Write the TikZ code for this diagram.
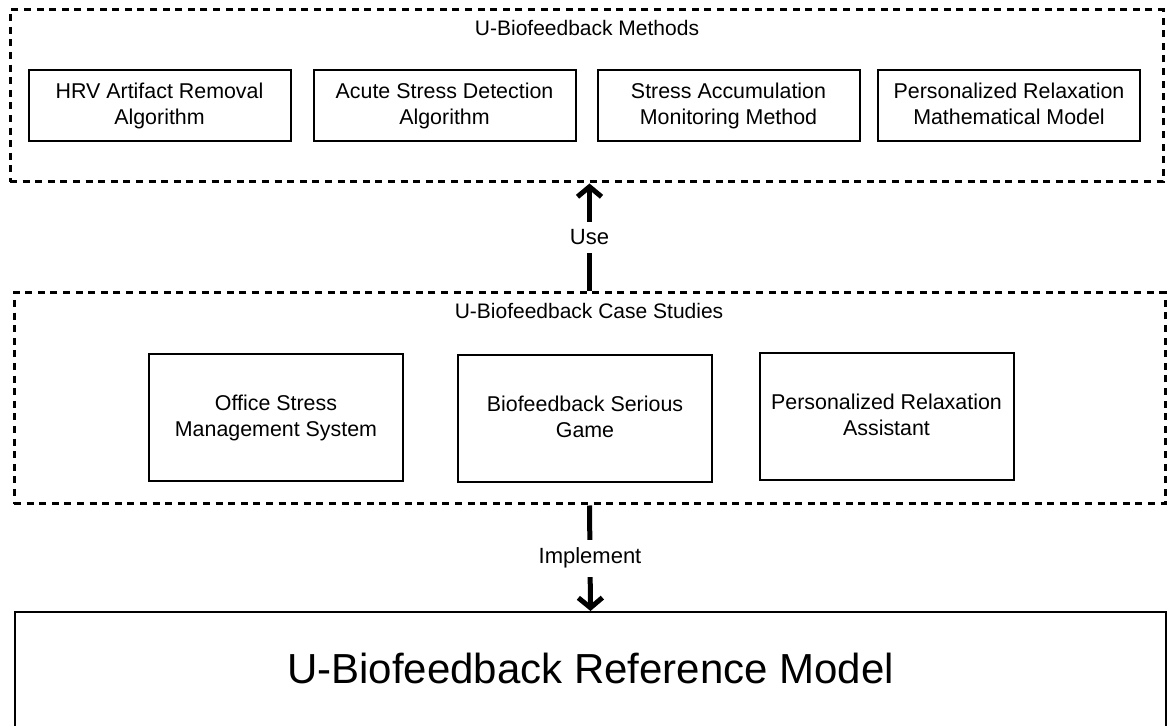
\documentclass[tikz,border=0pt]{standalone}
\usepackage{fontspec}
\setmainfont{Liberation Sans}
\usetikzlibrary{arrows.meta, positioning}

\begin{document}
\begin{tikzpicture}[
    x=0.5pt, y=-0.5pt,
    groupbox/.style={draw, line width=1.5pt, dash pattern=on 3.5pt off 2.8pt, inner sep=0pt},
    titletext/.style={font=\fontsize{10.5}{12.5}\selectfont},
    methodbox/.style={draw, line width=1pt, minimum width=131pt, minimum height=35.5pt,
                      align=center, font=\fontsize{10.7}{13}\selectfont,
                      execute at end node=\vphantom{g}},
    casebox/.style={draw, line width=1pt, minimum width=127pt, minimum height=63.5pt,
                    align=center, font=\fontsize{10.7}{13}\selectfont,
                    execute at end node=\vphantom{g}},
    refbox/.style={draw, line width=1pt, minimum width=575.5pt, anchor=north,
                   inner ysep=20.5pt, text height=15pt, text depth=80pt,
                   font=\fontsize{21}{25}\selectfont},
    flowarrow/.style={line width=2.5pt, -{Straight Barb[length=5pt, width=12pt]}},
    flowlabel/.style={fill=white, inner xsep=1pt, inner ysep=4pt,
                      font=\fontsize{11}{13}\selectfont},
]
    \useasboundingbox (0,0) rectangle (1172,726);

    % methods
    \node[groupbox, minimum width=576.5pt, minimum height=86pt] (methods) at (586.5,96) {};
    \node[titletext] (methodstitle) at (587,28) {U-Biofeedback Methods};
    \node[methodbox] (hrv) at (159.5,105.5) {HRV Artifact Removal\\Algorithm};
    \node[methodbox] (acute) at (444.5,105.5) {Acute Stress Detection\\Algorithm};
    \node[methodbox] (accum) at (728.5,105.5) {Stress Accumulation\\Monitoring Method};
    \node[methodbox] (relaxmodel) at (1009,105.5) {Personalized Relaxation\\Mathematical Model};

    % case studies
    \node[groupbox, minimum width=575.5pt, minimum height=105.5pt] (cases) at (589.5,398.5) {};
    \node[titletext] (casestitle) at (589,311) {U-Biofeedback Case Studies};
    \node[casebox] (office) at (276,417.5) {Office Stress\\Management System};
    \node[casebox] (game) at (585,419) {Biofeedback Serious\\Game};
    \node[casebox] (assistant) at (886.5,417) {Personalized Relaxation\\Assistant};

    % reference model
    \node[refbox] (refmodel) at (590.5,611) {U-Biofeedback Reference Model};

    % arrows
    \draw[flowarrow] (cases.north) -- node[flowlabel] {Use} (cases.north |- methods.south);
    \draw[flowarrow] (cases.south) -- node[flowlabel] {Implement} (refmodel.north);
\end{tikzpicture}
\end{document}
